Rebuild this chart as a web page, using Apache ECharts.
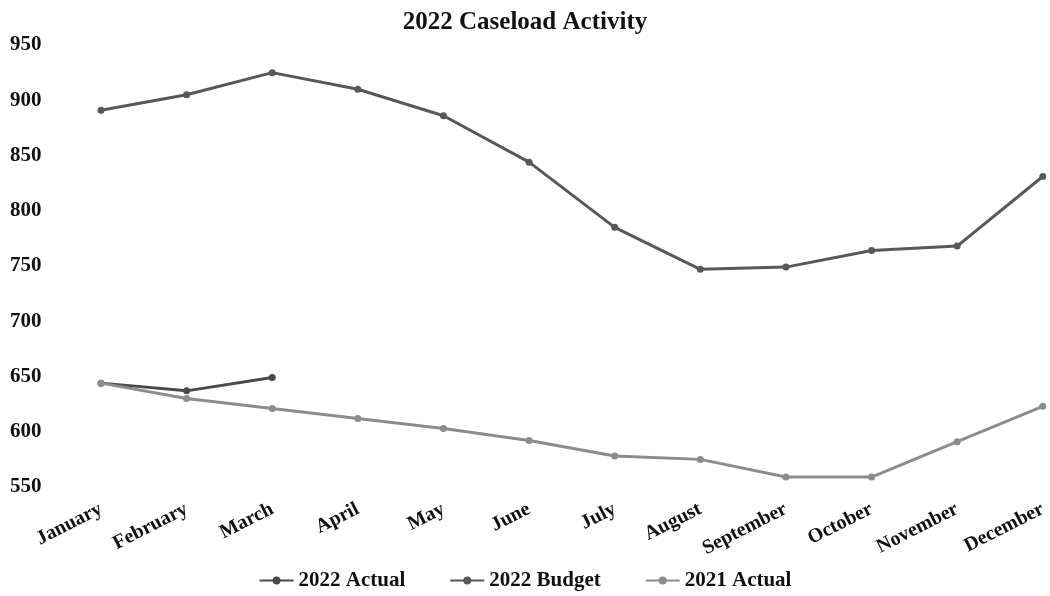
<!DOCTYPE html>
<html>
<head>
<meta charset="utf-8">
<script src="https://cdn.jsdelivr.net/npm/echarts@6/dist/echarts.min.js"></script>
<style>
  html, body { margin: 0; padding: 0; background: #ffffff; }
  #chart { width: 1050px; height: 596px; }
</style>
</head>
<body>
<div id="chart"></div>
<script>
// Monthly caseload figures
const months = ['January', 'February', 'March', 'April', 'May', 'June',
  'July', 'August', 'September', 'October', 'November', 'December'];
const actual2022 = [644, 637, 649, null, null, null, null, null, null, null, null, null];
const budget2022 = [891, 905, 925, 910, 886, 844, 785, 747, 749, 764, 768, 831];
const actual2021 = [644, 630, 621, 612, 603, 592, 578, 575, 559, 559, 591, 623];

const FONT = '"Liberation Serif", "Times New Roman", serif';

const chart = echarts.init(document.getElementById('chart'), null, { renderer: 'canvas' });

function lineSeries(name, data, color) {
  return {
    name: name,
    type: 'line',
    data: data,
    symbol: 'circle',
    symbolSize: 7,
    showSymbol: true,
    connectNulls: false,
    lineStyle: { color: color, width: 3 },
    itemStyle: { color: color },
    emphasis: { disabled: true }
  };
}

chart.setOption({
  animation: false,
  backgroundColor: '#ffffff',
  title: {
    text: '2022 Caseload Activity',
    left: 'center',
    top: 5,
    textStyle: { fontFamily: FONT, fontWeight: 'bold', fontSize: 25, color: '#111' }
  },
  legend: {
    bottom: 0,
    left: 'center',
    itemWidth: 34,
    itemHeight: 10,
    itemGap: 44,
    textStyle: { fontFamily: FONT, fontWeight: 'bold', fontSize: 21, color: '#111' },
    data: ['2022 Actual', '2022 Budget', '2021 Actual']
  },
  grid: { left: 101, right: 7, top: 45, bottom: 109, containLabel: false },
  xAxis: {
    type: 'category',
    data: months,
    boundaryGap: false,
    axisLine: { show: false },
    axisTick: { show: false },
    splitLine: { show: false },
    axisLabel: {
      rotate: 27,
      margin: 21,
      interval: 0,
      fontFamily: FONT,
      fontWeight: 'bold',
      fontSize: 20,
      color: '#111'
    }
  },
  yAxis: {
    type: 'value',
    min: 550,
    max: 950,
    interval: 50,
    axisLine: { show: false },
    axisTick: { show: false },
    splitLine: { show: false },
    axisLabel: {
      align: 'left',
      margin: 91,
      fontFamily: FONT,
      fontWeight: 'bold',
      fontSize: 21,
      color: '#111'
    }
  },
  series: [
    lineSeries('2022 Actual', actual2022, '#4a4a4a'),
    lineSeries('2022 Budget', budget2022, '#585858'),
    lineSeries('2021 Actual', actual2021, '#8c8c8c')
  ]
});
</script>
</body>
</html>
